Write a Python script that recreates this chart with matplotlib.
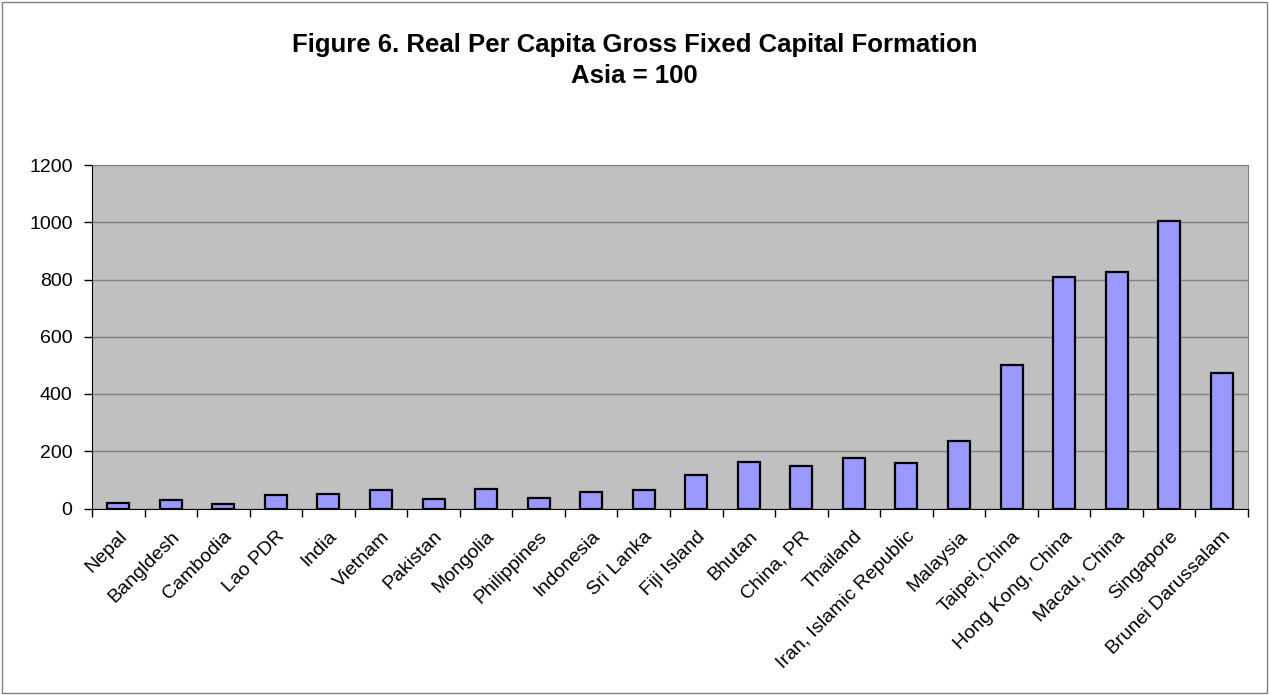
import matplotlib.pyplot as plt
from matplotlib.patches import Rectangle
import numpy as np

plt.rcParams['font.family'] = ['Liberation Sans', 'DejaVu Sans']

countries = ["Nepal", "Bangldesh", "Cambodia", "Lao PDR", "India", "Vietnam",
             "Pakistan", "Mongolia", "Philippines", "Indonesia", "Sri Lanka",
             "Fiji Island", "Bhutan", "China, PR", "Thailand",
             "Iran, Islamic Republic", "Malaysia", "Taipei,China",
             "Hong Kong, China", "Macau, China", "Singapore", "Brunei Darussalam"]
values = [18, 29, 15, 46, 50, 63, 33, 68, 36, 59, 63, 118, 164, 150, 177,
          159, 235, 500, 810, 825, 1005, 472]
yticks = [0, 200, 400, 600, 800, 1000, 1200]

W, H = 1269, 695
fig = plt.figure(figsize=(W / 100, H / 100), dpi=100)
ax = fig.add_axes([92 / W, 1 - 508.5 / H, (1248 - 92) / W, (508.5 - 165) / H])

x = np.arange(len(countries))
ax.set_facecolor('#C0C0C0')
ax.bar(x, values, width=0.42, color='#9999FF', edgecolor='black', linewidth=1.6, zorder=3)

ax.set_xlim(-0.5, len(countries) - 0.5)
ax.set_ylim(0, 1200)
ax.set_yticks(yticks)
ax.yaxis.grid(True, color='#808080', linewidth=1.0, zorder=1)
ax.tick_params(axis='y', direction='out', length=6, width=1, labelsize=14, pad=8)

# labels at bar centres, ticks at category boundaries
ax.set_xticks(x)
ax.set_xticklabels(countries, rotation=45, ha='right', rotation_mode='anchor', fontsize=14)
ax.tick_params(axis='x', which='major', length=0, pad=14)
ax.set_xticks(np.arange(len(countries) + 1) - 0.5, minor=True)
ax.tick_params(axis='x', which='minor', direction='out', length=6, width=1)

ax.spines['left'].set_color('black')
ax.spines['bottom'].set_color('black')
ax.spines['top'].set_color('#808080')
ax.spines['right'].set_color('#808080')

fig.text(0.5, 1 - 45 / H, "Figure 6. Real Per Capita Gross Fixed Capital Formation",
         ha='center', va='center', fontsize=18.5, fontweight='bold')
fig.text(0.5, 1 - 76 / H, "Asia = 100", ha='center', va='center', fontsize=18.5, fontweight='bold')

fig.patches.append(Rectangle((2 / W, 2 / H), 1 - 4 / W, 1 - 4 / H, transform=fig.transFigure,
                             fill=False, edgecolor='#808080', linewidth=1))

plt.savefig("out.png", dpi=100)
